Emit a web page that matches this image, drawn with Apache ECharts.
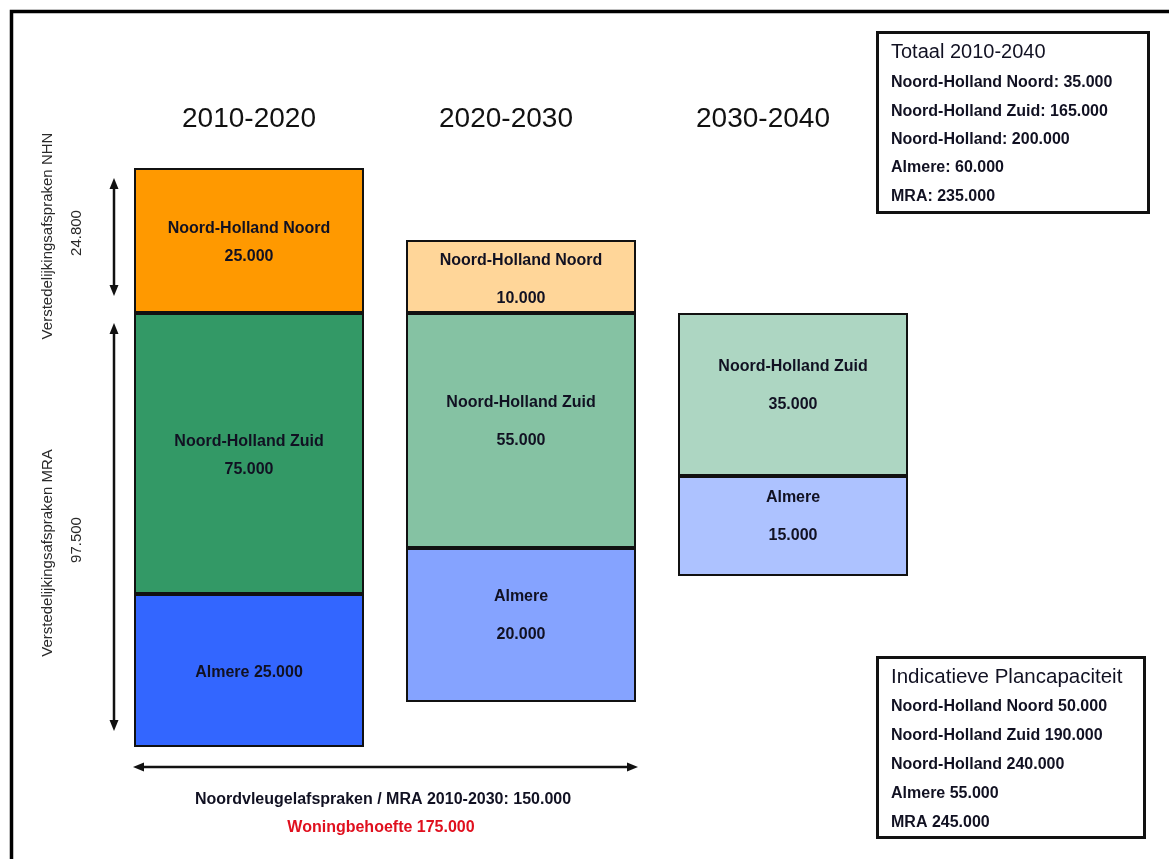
<!DOCTYPE html>
<html><head><meta charset="utf-8">
<script src="https://cdn.jsdelivr.net/npm/echarts@6/dist/echarts.min.js"></script>
<style>html,body{margin:0;padding:0;background:#fff}#c{width:1169px;height:859px}</style>
</head><body><div id="c"></div>
<script>
// ---- data ----
const periods = ['2010-2020', '2020-2030', '2030-2040'];
const regionNames = ['Almere', 'Noord-Holland Zuid', 'Noord-Holland Noord'];
// housing numbers shown in each block
const almereValues = [25000, 20000, 15000];
const nhzValues = [75000, 55000, 35000];
const nhnValues = [25000, 10000, null];
// drawn block heights in diagram units (the blocks are not drawn to scale)
const baseOffset = [0, 45, 171];
const almereHeights = [153, 154, 100];
const nhzHeights = [281, 235, 163];
const nhnHeights = [145, 73, null];
// side boxes
const totaalTitle = 'Totaal 2010-2040';
const totaalNames = ['Noord-Holland Noord', 'Noord-Holland Zuid', 'Noord-Holland', 'Almere', 'MRA'];
const totaalValues = [35000, 165000, 200000, 60000, 235000];
const planTitle = 'Indicatieve Plancapaciteit';
const planNames = ['Noord-Holland Noord', 'Noord-Holland Zuid', 'Noord-Holland', 'Almere', 'MRA'];
const planValues = [50000, 190000, 240000, 55000, 245000];
// annotations
const nhnAgreement = 24800;
const mraAgreement = 97500;
const noordvleugelValue = 150000;
const woningbehoefteValue = 175000;

// ---- helpers ----
const fmt = n => String(n).replace(/\B(?=(\d{3})+(?!\d))/g, '.');
const FONT = '"Liberation Sans", Arial, sans-serif';
const TXT = '#111122';

const colors = {
  'Almere': ['#3366FF', '#85A3FF', '#ADC2FF'],
  'Noord-Holland Zuid': ['#339966', '#85C2A3', '#ADD6C2'],
  'Noord-Holland Noord': ['#FF9900', '#FFD699', '#FFE0B2']
};
// label layout per column / region
function labelFor(region, i, value) {
  let lh = i === 0 ? 28 : 38;
  let off = i === 0 ? 2 : -9;
  if (region === 'Noord-Holland Noord' && i === 1) off = 3;
  const single = (region === 'Almere' && i === 0);
  return {
    show: true, position: 'inside', color: TXT, fontFamily: FONT, fontWeight: 'bold',
    fontSize: 16, lineHeight: lh, offset: [0, off],
    formatter: single ? (region + ' ' + fmt(value)) : (region + '\n' + fmt(value))
  };
}
function seriesFor(region, heights, values) {
  return {
    name: region, type: 'bar', stack: 'a', barWidth: 230, silent: true,
    data: heights.map((h, i) => h == null ? null : ({
      value: h,
      itemStyle: { color: colors[region][i], borderColor: '#111', borderWidth: 2 },
      label: labelFor(region, i, values[i])
    }))
  };
}
function vArrow(x, y1, y2) {
  return [
    { type: 'line', shape: { x1: x, y1: y1 + 6, x2: x, y2: y2 - 6 }, style: { stroke: '#111', lineWidth: 2.5 } },
    { type: 'polygon', shape: { points: [[x, y1], [x - 4.5, y1 + 11], [x + 4.5, y1 + 11]] }, style: { fill: '#111' } },
    { type: 'polygon', shape: { points: [[x, y2], [x - 4.5, y2 - 11], [x + 4.5, y2 - 11]] }, style: { fill: '#111' } }
  ];
}
function hArrow(y, x1, x2) {
  return [
    { type: 'line', shape: { x1: x1 + 6, y1: y, x2: x2 - 6, y2: y }, style: { stroke: '#111', lineWidth: 2.5 } },
    { type: 'polygon', shape: { points: [[x1, y], [x1 + 11, y - 4.5], [x1 + 11, y + 4.5]] }, style: { fill: '#111' } },
    { type: 'polygon', shape: { points: [[x2, y], [x2 - 11, y - 4.5], [x2 - 11, y + 4.5]] }, style: { fill: '#111' } }
  ];
}
function txt(x, y, text, o) {
  return { type: 'text', x: x, y: y, rotation: (o && o.rot) || 0,
    style: Object.assign({ text: text, fill: TXT, font: '16px ' + FONT, textAlign: 'left', textVerticalAlign: 'middle' }, (o && o.style) || {}) };
}

const graphics = [];
// outer frame (top and left edges)
graphics.push({ type: 'polyline', shape: { points: [[11.5, 870], [11.5, 11.5], [1180, 11.5]] }, style: { stroke: '#000', lineWidth: 3.5, fill: null } });
// period titles
const titleX = [249, 506, 763];
periods.forEach((p, i) => graphics.push(txt(titleX[i], 119, p, { style: { font: '28px ' + FONT, textAlign: 'center', fill: '#111' } })));
// left annotations
graphics.push(...vArrow(114, 178, 296));
graphics.push(...vArrow(114, 323, 731));
graphics.push(txt(48, 236, 'Verstedelijkingsafspraken NHN', { rot: Math.PI / 2, style: { font: '15px ' + FONT, textAlign: 'center', fill: '#2a2a2a' } }));
graphics.push(txt(77, 233, fmt(nhnAgreement), { rot: Math.PI / 2, style: { font: '15px ' + FONT, textAlign: 'center', fill: '#2a2a2a' } }));
graphics.push(txt(48, 553, 'Verstedelijkingsafspraken MRA', { rot: Math.PI / 2, style: { font: '15px ' + FONT, textAlign: 'center', fill: '#2a2a2a' } }));
graphics.push(txt(77, 540, fmt(mraAgreement), { rot: Math.PI / 2, style: { font: '15px ' + FONT, textAlign: 'center', fill: '#2a2a2a' } }));
// bottom annotation
graphics.push(...hArrow(767, 133, 638));
graphics.push(txt(383, 800, 'Noordvleugelafspraken / MRA 2010-2030: ' + fmt(noordvleugelValue), { style: { font: 'bold 16px ' + FONT, textAlign: 'center' } }));
graphics.push(txt(381, 828, 'Woningbehoefte ' + fmt(woningbehoefteValue), { style: { font: 'bold 16px ' + FONT, textAlign: 'center', fill: '#E0101E' } }));
// box 1
graphics.push({ type: 'rect', shape: { x: 877.5, y: 32.5, width: 271, height: 180 }, style: { fill: '#fff', stroke: '#111', lineWidth: 3 } });
graphics.push(txt(891, 52, totaalTitle, { style: { font: '20px ' + FONT } }));
totaalNames.forEach((n, i) => graphics.push(txt(891, 83 + i * 28.3, n + ': ' + fmt(totaalValues[i]), { style: { font: 'bold 16px ' + FONT } })));
// box 2
graphics.push({ type: 'rect', shape: { x: 877.5, y: 657.5, width: 267, height: 180 }, style: { fill: '#fff', stroke: '#111', lineWidth: 3 } });
graphics.push(txt(891, 677, planTitle, { style: { font: '20.5px ' + FONT } }));
planNames.forEach((n, i) => graphics.push(txt(891, 707 + i * 29, n + ' ' + fmt(planValues[i]), { style: { font: 'bold 16px ' + FONT } })));

const chart = echarts.init(document.getElementById('c'));
chart.setOption({
  animation: false,
  backgroundColor: '#fff',
  grid: { left: 113, right: 240, top: 168, bottom: 112 },
  xAxis: { type: 'category', data: periods, show: false },
  yAxis: { type: 'value', min: 0, max: 579, show: false },
  series: [
    { name: 'base', type: 'bar', stack: 'a', barWidth: 230, silent: true, data: baseOffset,
      itemStyle: { color: 'rgba(0,0,0,0)', borderWidth: 0 } },
    seriesFor('Almere', almereHeights, almereValues),
    seriesFor('Noord-Holland Zuid', nhzHeights, nhzValues),
    seriesFor('Noord-Holland Noord', nhnHeights, nhnValues)
  ],
  graphic: { elements: graphics }
});
</script></body></html>
